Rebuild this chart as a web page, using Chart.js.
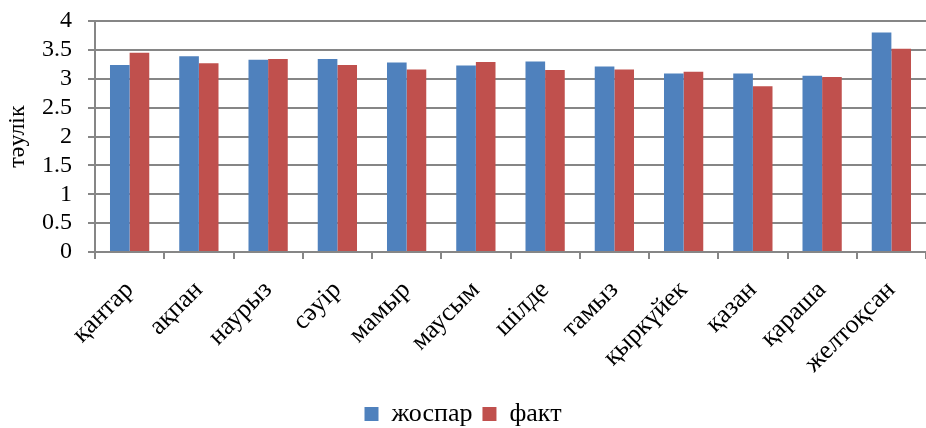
<!DOCTYPE html>
<html>
<head>
<meta charset="utf-8">
<script src="https://cdn.jsdelivr.net/npm/chart.js@4/dist/chart.umd.min.js"></script>
<style>
  html, body { margin: 0; padding: 0; background: #fff; }
  #wrap { width: 926px; height: 428px; }
</style>
</head>
<body>
<div id="wrap"><canvas id="c" width="926" height="428"></canvas></div>
<script>
// Months (Kazakh)
const months = ['қантар', 'ақпан', 'наурыз', 'сәуір', 'мамыр', 'маусым',
                'шілде', 'тамыз', 'қыркүйек', 'қазан', 'қараша', 'желтоқсан'];
// Planned values, days
const plan = [3.24, 3.39, 3.33, 3.34, 3.28, 3.23, 3.30, 3.21, 3.09, 3.09, 3.05, 3.80];
// Actual values, days
const fact = [3.45, 3.27, 3.34, 3.24, 3.16, 3.29, 3.15, 3.16, 3.12, 2.87, 3.03, 3.52];
// Y-axis range and step
const yMin = 0, yMax = 4, yStep = 0.5;

const serif = "'Liberation Serif', 'DejaVu Serif', serif";
const gridGray = '#868686';

new Chart(document.getElementById('c'), {
  type: 'bar',
  data: {
    labels: months,
    datasets: [
      { label: 'жоспар', data: plan, backgroundColor: '#4F81BD', borderWidth: 0 },
      { label: 'факт', data: fact, backgroundColor: '#C0504D', borderWidth: 0 }
    ]
  },
  options: {
    responsive: false,
    animation: false,
    events: [],
    layout: { padding: { top: 21, right: 0, left: 0, bottom: -9 } },
    datasets: { bar: { barPercentage: 1.0, categoryPercentage: 0.567 } },
    plugins: {
      tooltip: { enabled: false },
      legend: {
        position: 'bottom',
        labels: {
          font: { family: serif, size: 26 },
          color: '#000',
          boxWidth: 14,
          boxHeight: 14,
          padding: 10
        }
      }
    },
    scales: {
      x: {
        offset: true,
        grid: {
          offset: true,
          drawOnChartArea: false,
          drawTicks: true,
          tickLength: 7,
          color: gridGray,
          lineWidth: 2
        },
        border: { color: gridGray, width: 2 },
        ticks: {
          font: { family: serif, size: 26 },
          color: '#000',
          maxRotation: 45,
          minRotation: 45,
          autoSkip: false,
          padding: 16
        },
        afterFit: s => {
          s.height = 139;
          s.paddingLeft = 0;
          s.paddingRight = 0;
        }
      },
      y: {
        min: yMin,
        max: yMax,
        grid: {
          display: true,
          drawOnChartArea: true,
          color: gridGray,
          lineWidth: 2,
          tickLength: 7,
          drawTicks: true
        },
        border: { color: gridGray, width: 2 },
        ticks: {
          stepSize: yStep,
          autoSkip: false,
          font: { family: serif, size: 24 },
          color: '#000',
          padding: 16,
          callback: v => String(v)
        },
        title: {
          display: true,
          text: 'тәулік',
          font: { family: serif, size: 24 },
          color: '#000',
          padding: { top: 3, bottom: 1 }
        },
        afterFit: s => {
          s.width = 95;
          s.paddingTop = 0;
          s.paddingBottom = 0;
        }
      }
    }
  }
});
</script>
</body>
</html>
